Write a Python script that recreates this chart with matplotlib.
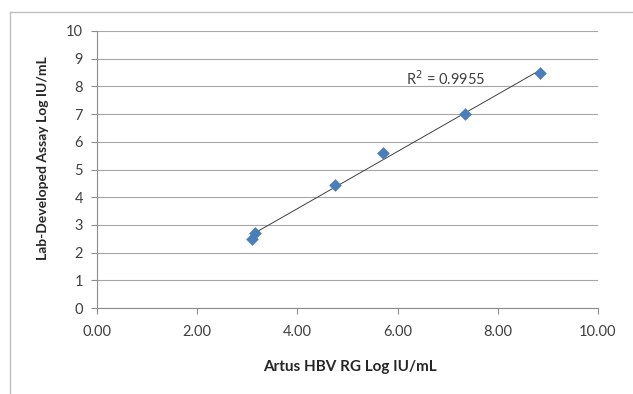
import numpy as np
import matplotlib.pyplot as plt
from matplotlib.lines import Line2D

# data
artus_x = [3.10, 3.16, 4.76, 5.70, 7.34, 8.84]
lab_y = [2.50, 2.69, 4.45, 5.60, 7.00, 8.47]
x_ticks = [0, 2, 4, 6, 8, 10]
y_ticks = [0, 1, 2, 3, 4, 5, 6, 7, 8, 9, 10]
r2_text = "R$^2$ = 0.9955"

plt.rcParams['font.family'] = ['Lato', 'DejaVu Sans']

W, H = 633, 394
fig = plt.figure(figsize=(W / 100, H / 100), dpi=100)
ax = fig.add_axes([97 / W, 1 - 308 / H, (598 - 97) / W, (308 - 31) / H])

grid_c = '#8c8c8c'
ax.set_xlim(0, 10)
ax.set_ylim(0, 10)
ax.set_yticks(y_ticks)
ax.set_xticks(x_ticks)
ax.set_xticklabels(['%.2f' % v for v in x_ticks])
ax.yaxis.grid(True, color='#a6a6a6', lw=0.8)
ax.set_axisbelow(True)
for s in ['top', 'right']:
    ax.spines[s].set_visible(False)
for s in ['left', 'bottom']:
    ax.spines[s].set_color(grid_c)
    ax.spines[s].set_linewidth(0.8)
ax.tick_params(axis='both', colors=grid_c, labelcolor='#404040', labelsize=10.5, length=4, width=0.8)
ax.tick_params(axis='x', pad=8)
ax.tick_params(axis='y', pad=6)

# trend line (least squares)
slope, icpt = np.polyfit(artus_x, lab_y, 1)
xs = np.array([min(artus_x), max(artus_x)])
ax.plot(xs, slope * xs + icpt, color='#404040', lw=0.7, zorder=2)

ax.scatter(artus_x, lab_y, marker='D', s=42, color='#4a7ebb', zorder=3, linewidths=0)

ax.text(6.95, 8.27, r2_text, fontsize=10.5, color='#404040', ha='center', va='center')

ax.set_xlabel('Artus HBV RG Log IU/mL', fontsize=11, fontweight='bold', color='#262626')
ax.set_ylabel('Lab-Developed Assay Log IU/mL', fontsize=10, fontweight='bold', color='#262626')
ax.xaxis.set_label_coords(0.505, -0.212)
ax.yaxis.set_label_coords(-0.108, 0.54)
ax.xaxis.label.set_va('center')
ax.yaxis.label.set_va('center')

# chart frame (only left and top edges visible in the crop)
fig.add_artist(Line2D([9.5 / W, 9.5 / W], [0, 1 - 12 / H], transform=fig.transFigure, color='#bfbfbf', lw=1))
fig.add_artist(Line2D([9.5 / W, 1], [1 - 12 / H, 1 - 12 / H], transform=fig.transFigure, color='#bfbfbf', lw=1))

fig.savefig('out.png', dpi=100)
